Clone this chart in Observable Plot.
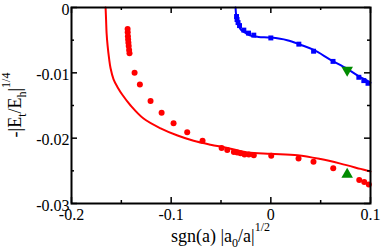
<!DOCTYPE html>
<html><head><meta charset="utf-8">
<script src="https://cdn.jsdelivr.net/npm/d3@7"></script>
<script src="https://cdn.jsdelivr.net/npm/@observablehq/plot@0.6"></script>
<style>body{margin:0;background:#fff} svg{display:block}</style>
</head><body><div id="chart"></div>
<script>
// red circles (data points)
const redDotsX = [-0.1437,-0.1436,-0.1434,-0.1432,-0.1429,-0.1426,-0.1422,-0.1418,
  -0.1367,-0.1314,-0.1207,-0.1096,-0.0976,-0.0839,-0.0685,-0.0494,-0.0437,-0.0371,
  -0.0337,-0.0304,-0.0264,-0.0221,-0.0171,0.0004,0.0278,0.0428,0.0626,0.0887,0.0937,0.0983];
const redDotsY = [-0.0033,-0.0038,-0.0044,-0.0049,-0.0054,-0.0059,-0.0065,-0.0070,
  -0.0100,-0.0118,-0.0143,-0.0161,-0.0177,-0.0191,-0.0204,-0.0215,-0.0218,-0.0221,
  -0.0222,-0.0223,-0.0225,-0.0225,-0.0226,-0.0227,-0.0231,-0.0236,-0.0246,-0.0264,-0.0267,-0.0271];
// red curve
const redLineX = [-0.1658,-0.1653,-0.1648,-0.1638,-0.1623,-0.1608,-0.1578,-0.1538,-0.1488,-0.1407,
  -0.1277,-0.1106,-0.0936,-0.0775,-0.0605,-0.0434,-0.0234,0,0.0268,0.0499,0.0699,0.0900,0.1];
const redLineY = [0,-0.0019,-0.0039,-0.0058,-0.0078,-0.0093,-0.0110,-0.0122,-0.0134,-0.0150,
  -0.0170,-0.0185,-0.0196,-0.0204,-0.0210,-0.0215,-0.0222,-0.0224,-0.0226,-0.0232,-0.0239,-0.0247,-0.0251];
// blue squares
const blueSqX = [-0.0344,-0.0339,-0.0329,-0.0314,-0.0271,-0.0224,-0.0171,0,0.0281,0.0429,0.0624,0.0883,0.0933,0.0975];
const blueSqY = [-0.00138,-0.00184,-0.00231,-0.00277,-0.00346,-0.00392,-0.00423,-0.00466,-0.00561,-0.00669,-0.00825,-0.01068,-0.01119,-0.0116];
// blue curve
const blueLineX = [-0.0354,-0.0351,-0.0346,-0.0336,-0.0319,-0.0294,-0.0254,-0.0204,-0.0123,0,0.0164,0.0298,0.0431,0.0599,0.0766,0.0880,0.0967,0.1];
const blueLineY = [0,-0.0007,-0.0015,-0.0022,-0.0029,-0.0035,-0.0039,-0.0043,-0.0045,-0.0046,-0.0050,-0.0057,-0.0065,-0.0080,-0.0094,-0.0105,-0.0112,-0.0115];
// green triangles
const greenDownX = [0.0766], greenDownY = [-0.00957];
const greenUpX = [0.0766], greenUpY = [-0.02554];
// ticks
const xMajor = [-0.2,-0.1,0,0.1];
const xMajorLabels = ["-0.2","-0.1","0","0.1"];
const xMinor = [-0.15,-0.05,0.05];
const yMajor = [0,-0.01,-0.02,-0.03];
const yMajorLabels = ["0","-0.01","-0.02","-0.03"];
const yMinor = [-0.005,-0.015,-0.025];

const W = 382, H = 251, mL = 71, mR = 12, mT = 7, mB = 48;
const pw = W - mL - mR, ph = H - mT - mB;
const pts = (xs, ys) => xs.map((x, i) => ({x, y: ys[i]}));
const font = "Liberation Serif";

const tickStyle = {stroke: "black", strokeWidth: 1.5};
const chart = Plot.plot({
  width: W, height: H,
  marginLeft: mL, marginRight: mR, marginTop: mT, marginBottom: mB,
  x: {domain: [-0.2, 0.1], axis: null},
  y: {domain: [-0.03, 0], axis: null},
  style: {fontFamily: font, background: "white"},
  marks: [
    Plot.line(pts(redLineX, redLineY), {x: "x", y: "y", stroke: "#ff0000", strokeWidth: 2, curve: "catmull-rom"}),
    Plot.line(pts(blueLineX, blueLineY), {x: "x", y: "y", stroke: "#0000ff", strokeWidth: 2, curve: "catmull-rom"}),
    Plot.dot(pts(redDotsX, redDotsY), {x: "x", y: "y", r: 3, fill: "#ff0000", stroke: "none"}),
    Plot.dot(pts(blueSqX, blueSqY), {x: "x", y: "y", r: 2.8, symbol: "square", fill: "#0000ff", stroke: "none"}),
    Plot.dot(pts(greenDownX, greenDownY), {x: "x", y: "y", r: 4.3, symbol: "triangle", rotate: 180, fill: "rgb(0,139,0)", stroke: "none"}),
    Plot.dot(pts(greenUpX, greenUpY), {x: "x", y: "y", r: 4.3, symbol: "triangle", fill: "rgb(0,139,0)", stroke: "none"}),
    // inward ticks, bottom & top
    Plot.tickX(xMajor, {x: d => d, insetTop: ph - 6, ...tickStyle}),
    Plot.tickX(xMajor, {x: d => d, insetBottom: ph - 6, ...tickStyle}),
    Plot.tickX(xMinor, {x: d => d, insetTop: ph - 3, ...tickStyle}),
    Plot.tickX(xMinor, {x: d => d, insetBottom: ph - 3, ...tickStyle}),
    // inward ticks, left & right
    Plot.tickY(yMajor, {y: d => d, insetRight: pw - 6, ...tickStyle}),
    Plot.tickY(yMajor, {y: d => d, insetLeft: pw - 6, ...tickStyle}),
    Plot.tickY(yMinor, {y: d => d, insetRight: pw - 3, ...tickStyle}),
    Plot.tickY(yMinor, {y: d => d, insetLeft: pw - 3, ...tickStyle}),
    Plot.frame({stroke: "black", strokeWidth: 2}),
    // tick labels
    Plot.text(xMajor, {x: d => d, text: (d, i) => xMajorLabels[i], frameAnchor: "bottom", lineAnchor: "top", dy: 5, fontSize: 16, fill: "black"}),
    Plot.text(yMajor, {y: d => d, text: (d, i) => yMajorLabels[i], frameAnchor: "left", textAnchor: "end", dx: -2, dy: 2, fontSize: 16, fill: "black"})
  ]
});
document.getElementById("chart").appendChild(chart);

// axis titles with sub/superscripts
const svg = d3.select(chart);
const xl = svg.append("text").attr("x", mL + pw / 2).attr("y", 241.5)
  .attr("text-anchor", "middle").attr("font-family", font).attr("font-size", 18).attr("fill", "black");
xl.append("tspan").text("sgn(a) |a");
xl.append("tspan").attr("font-size", 12).attr("dy", 5).text("0");
xl.append("tspan").attr("dy", -5).text("/a|");
xl.append("tspan").attr("font-size", 12).attr("dy", -11).text("1/2");

const yl = svg.append("text").attr("transform", `translate(20.5,${mT + ph / 2}) rotate(-90)`)
  .attr("text-anchor", "middle").attr("font-family", font).attr("font-size", 18).attr("fill", "black");
yl.append("tspan").text("-|E");
yl.append("tspan").attr("font-size", 12).attr("dy", 5).text("t");
yl.append("tspan").attr("dy", -5).text("/E");
yl.append("tspan").attr("font-size", 12).attr("dy", 5).text("h");
yl.append("tspan").attr("dy", -5).text("|");
yl.append("tspan").attr("font-size", 12).attr("dy", -11).text("1/4");
</script>
</body></html>
